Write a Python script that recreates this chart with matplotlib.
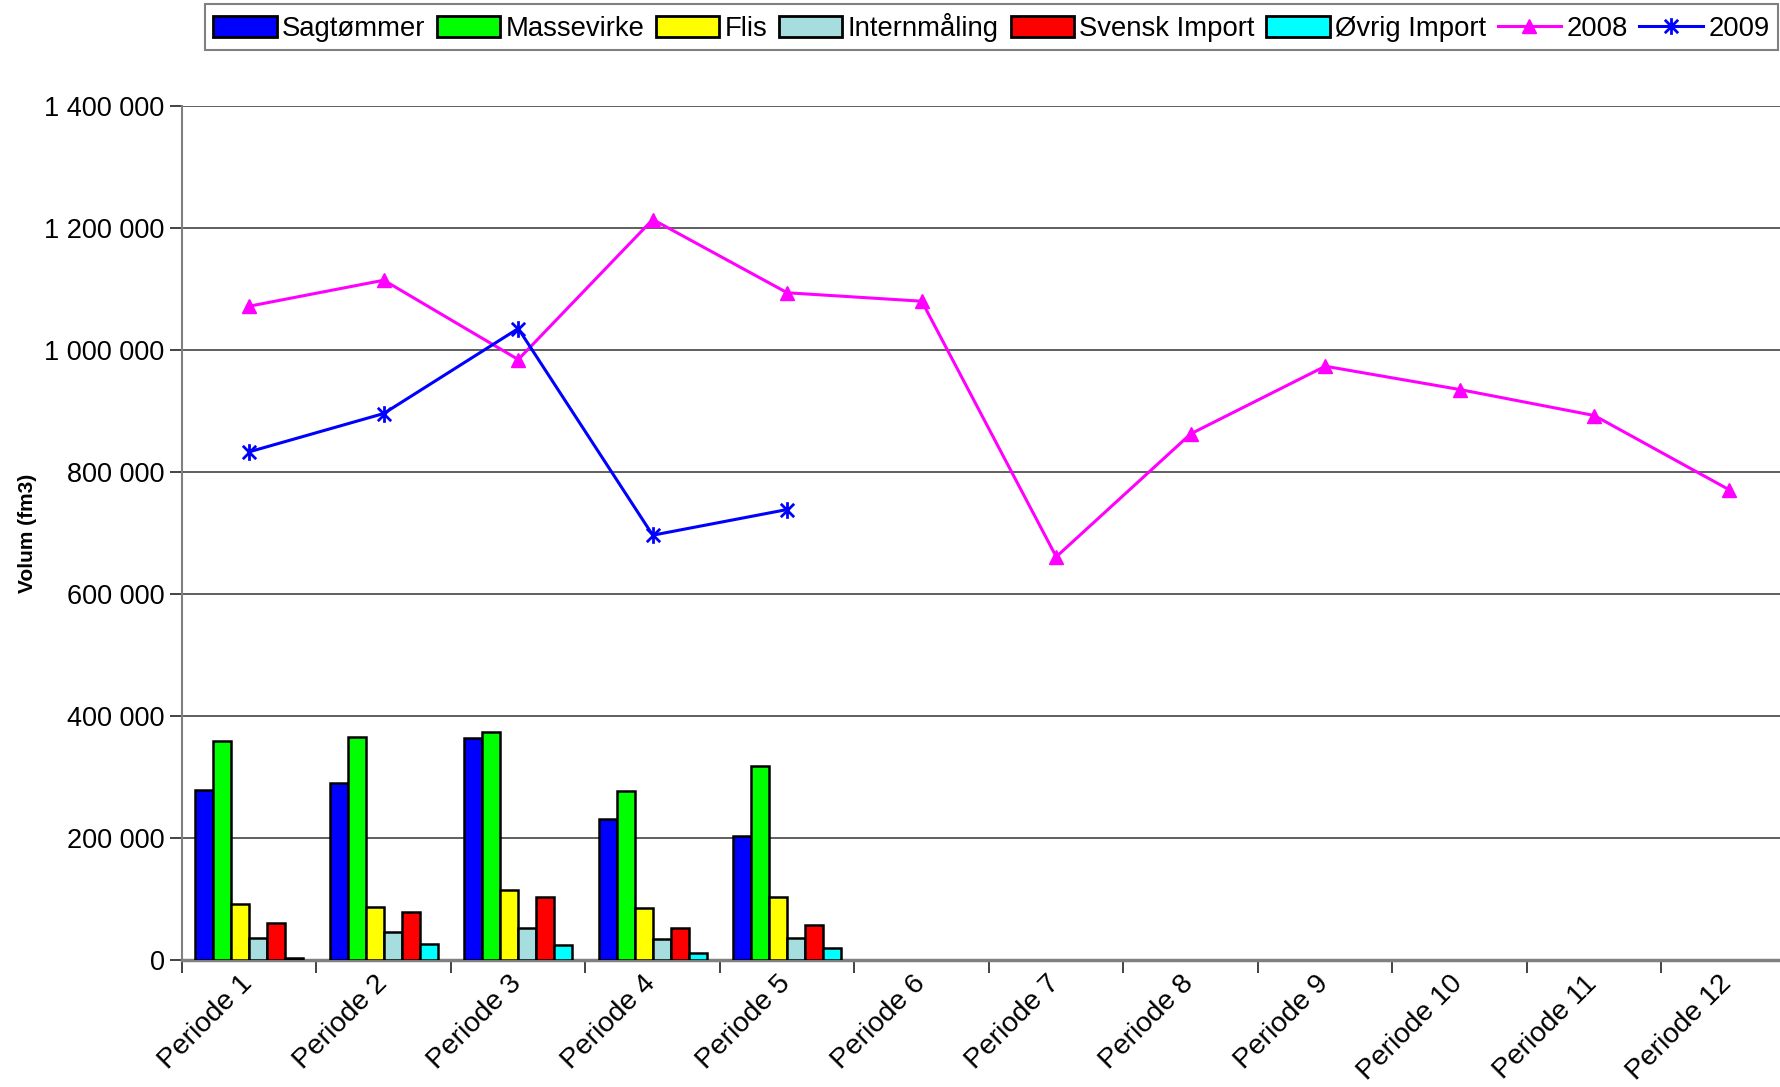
import numpy as np
import matplotlib
matplotlib.use("Agg")
import matplotlib.pyplot as plt
import matplotlib.ticker as ticker
import matplotlib.transforms as mtransforms
from matplotlib.path import Path
from matplotlib.patches import Patch
from matplotlib.lines import Line2D

plt.rcParams["font.family"] = ["Liberation Sans", "DejaVu Sans"]

periods = ["Periode %d" % i for i in range(1, 13)]

# 2009 volumes per product (fm3), periods 1-5
sagtommer = [278700, 290200, 364000, 231100, 202800]
massevirke = [359500, 366000, 373800, 277500, 318500]
flis = [91800, 87400, 115200, 85200, 103800]
internmaling = [35400, 46400, 51800, 34900, 36000]
svensk_import = [60000, 78000, 102600, 52400, 56700]
ovrig_import = [3800, 25600, 25100, 11500, 19700]

# totals
total_2008 = [1071800, 1114400, 984400, 1213900, 1093800, 1080000,
              661000, 862600, 973400, 935200, 892600, 771300]
total_2009 = [833100, 895900, 1035200, 696400, 738500]

bar_series = [
    ("Sagtømmer", sagtommer, "#0000FF"),
    ("Massevirke", massevirke, "#00FF00"),
    ("Flis", flis, "#FFFF00"),
    ("Internmåling", internmaling, "#A6DEE0"),
    ("Svensk Import", svensk_import, "#FF0000"),
    ("Øvrig Import", ovrig_import, "#00FFFF"),
]

fig = plt.figure(figsize=(17.81, 10.87), dpi=100)
ax = fig.add_axes([182 / 1781, 127 / 1087, 1614 / 1781, 854 / 1087])

width = 0.134
n = len(bar_series)
for k, (name, vals, col) in enumerate(bar_series):
    x = np.arange(len(vals)) + (k - (n - 1) / 2) * width
    ax.bar(x, vals, width, color=col, edgecolor="black", linewidth=1.8, zorder=3)

# asterisk like marker
star = Path([(0, -1), (0, 1), (-0.8, -0.8), (0.8, 0.8), (-0.8, 0.8), (0.8, -0.8)],
            [Path.MOVETO, Path.LINETO, Path.MOVETO, Path.LINETO, Path.MOVETO, Path.LINETO])

ax.plot(np.arange(len(total_2008)), total_2008, color="#FF00FF", lw=2.2,
        marker="^", markersize=10, zorder=4)
ax.plot(np.arange(len(total_2009)), total_2009, color="#0000FF", lw=2.2,
        marker=star, markersize=12, markeredgewidth=2, zorder=5)

ax.set_xlim(-0.5, 11.5)
ax.set_ylim(0, 1400000)
ax.set_yticks(np.arange(0, 1400001, 200000))
ax.yaxis.set_major_formatter(ticker.FuncFormatter(lambda v, p: "{:,.0f}".format(v).replace(",", " ")))
ax.grid(axis="y", color="#444444", lw=1.2, zorder=0)

ax.set_xticks(np.arange(-0.5, 12, 1))
ax.set_xticklabels([])
ax.set_xticks(np.arange(12), minor=True)
ax.set_xticklabels(periods, minor=True, rotation=45, ha="right", rotation_mode="anchor", fontsize=20.3)
ax.tick_params(axis="x", which="minor", length=0, pad=14)
ax.tick_params(axis="x", which="major", length=9, width=1.2, color="#222222", direction="out")
ax.tick_params(axis="y", length=9, width=1.2, labelsize=19.5, color="#222222")
shift = mtransforms.ScaledTranslation(-10 / 100, 9 / 100, fig.dpi_scale_trans)
for lab in ax.get_xticklabels(minor=True):
    lab.set_transform(lab.get_transform() + shift)

for s in ["top", "right"]:
    ax.spines[s].set_visible(False)
ax.spines["left"].set_color("#808080")
ax.spines["left"].set_linewidth(1.5)
ax.spines["bottom"].set_color("#808080")
ax.spines["bottom"].set_linewidth(2.5)

ax.set_ylabel("Volum (fm3)", fontsize=15, fontweight="bold")
ax.yaxis.set_label_coords(-0.09, 0.5)

handles = [Patch(facecolor=c, edgecolor="black", linewidth=2) for _, _, c in bar_series]
handles.append(Line2D([], [], color="#FF00FF", lw=2.2, marker="^", markersize=10))
handles.append(Line2D([], [], color="#0000FF", lw=2.2, marker=star, markersize=12, markeredgewidth=2))
labels = [s[0] for s in bar_series] + ["2008", "2009"]
leg = fig.legend(handles, labels, loc="upper center", bbox_to_anchor=(0.5566, 0.996), ncol=8,
                 fontsize=19.8, frameon=True, fancybox=False, edgecolor="#606060",
                 handlelength=2.3, handleheight=0.8, handletextpad=0.2, columnspacing=0.42,
                 borderpad=0.3, borderaxespad=0)
leg.get_frame().set_linewidth(1.5)

fig.savefig("out.png", dpi=100)
